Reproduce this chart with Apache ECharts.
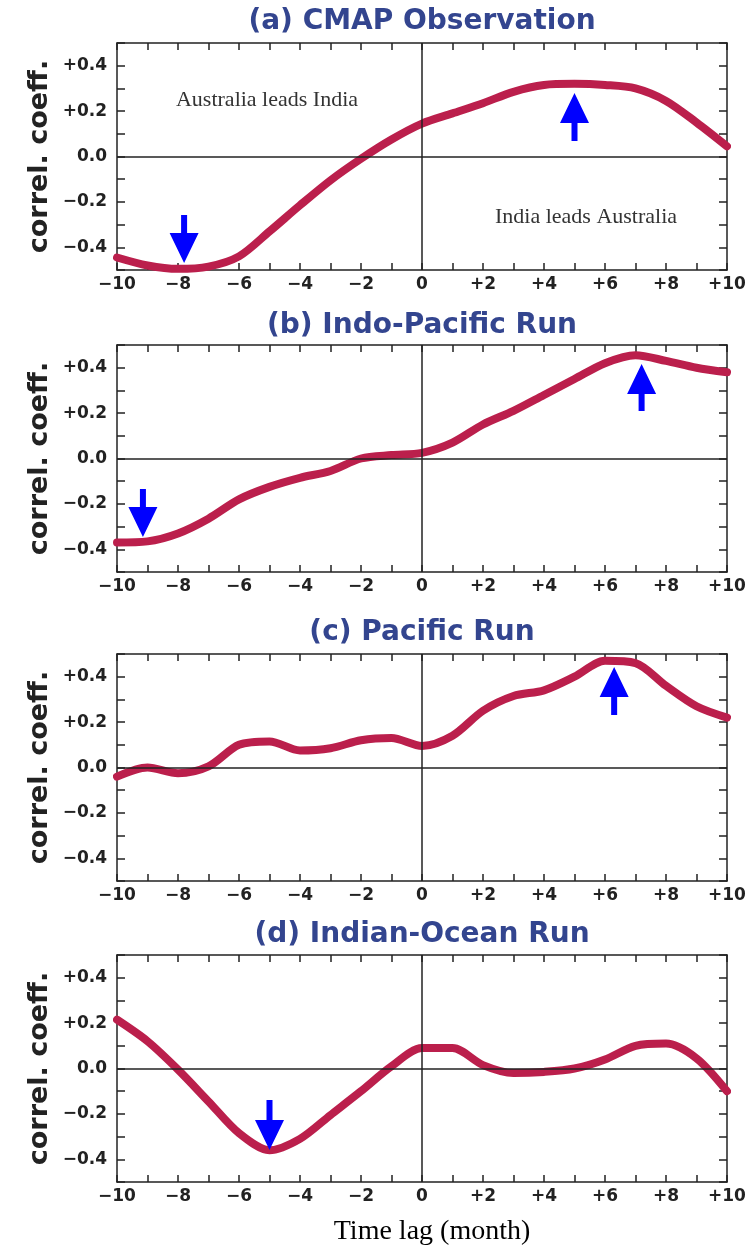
<!DOCTYPE html>
<html><head><meta charset="utf-8">
<script src="https://cdn.jsdelivr.net/npm/echarts@6/dist/echarts.min.js"></script>
<style>html,body{margin:0;padding:0;background:#fff}#c{width:754px;height:1251px}</style>
</head><body><div id="c"></div>
<script>
// ---- data ----
const lags = [-10,-9,-8,-7,-6,-5,-4,-3,-2,-1,0,1,2,3,4,5,6,7,8,9,10];
const corrA = [-0.445,-0.48,-0.495,-0.485,-0.44,-0.33,-0.215,-0.105,-0.01,0.075,0.145,0.19,0.235,0.285,0.315,0.32,0.315,0.30,0.245,0.15,0.045];
const corrB = [-0.37,-0.365,-0.33,-0.265,-0.18,-0.125,-0.085,-0.055,0.0,0.015,0.025,0.07,0.15,0.21,0.28,0.35,0.42,0.455,0.43,0.40,0.38];
const corrC = [-0.04,0.0,-0.025,0.005,0.10,0.115,0.075,0.085,0.12,0.13,0.095,0.14,0.25,0.315,0.34,0.40,0.47,0.46,0.36,0.27,0.22];
const corrD = [0.215,0.12,-0.005,-0.145,-0.285,-0.36,-0.31,-0.205,-0.10,0.01,0.09,0.09,0.015,-0.02,-0.015,0.0,0.04,0.10,0.11,0.045,-0.10];
// arrows: [lag, tail value, tip value]
const arrowsA = [[-7.8,-0.258,-0.469],[5.0,0.068,0.28]];
const arrowsB = [[-9.15,-0.134,-0.346],[7.2,0.209,0.416]];
const arrowsC = [[6.3,0.231,0.443]];
const arrowsD = [[-5.0,-0.139,-0.359]];
const panelTitles = ['(a) CMAP Observation','(b) Indo-Pacific Run','(c) Pacific Run','(d) Indian-Ocean Run'];
const xTickLabels = ['\u221210','\u22128','\u22126','\u22124','\u22122','0','+2','+4','+6','+8','+10'];
const yTickLabels = ['\u22120.4','\u22120.2','0.0','+0.2','+0.4'];
const yName = 'correl. coeff.';
const xName = 'Time lag (month)';
const noteLeft = 'Australia leads India';
const noteRight = 'India leads Australia';

// ---- layout ----
const series = [corrA, corrB, corrC, corrD];
const arrows = [arrowsA, arrowsB, arrowsC, arrowsD];
const gridTops = [43, 345, 654, 955];
const gridH = 227, gridL = 117, gridW = 610;
const titleY = [22, 326, 633, 935];
const axisColor = '#222';
const curveColor = '#bb1f4c';
const tickFont = {fontFamily:'DejaVu Sans', fontWeight:'bold', fontSize:17, color:'#222'};

const grid = [], xAxis = [], yAxis = [], seriesOpt = [], graphic = [];
function xFmt(v){ const r = Math.round(v); if (r % 2 !== 0) return ''; return xTickLabels[(r+10)/2]; }
function yFmt(v){ const i = Math.round(v*10); if (i % 2 !== 0 || Math.abs(i) > 4) return ''; return yTickLabels[(i+4)/2]; }

for (let p = 0; p < 4; p++) {
  grid.push({left: gridL, top: gridTops[p], width: gridW, height: gridH});
  const common = {type:'value', gridIndex:p, min:-10, max:10, interval:1,
    axisLine:{show:true, onZero:false, lineStyle:{color:axisColor, width:1.5}},
    axisTick:{show:true, inside:true, length:7, lineStyle:{color:axisColor, width:1.5}},
    splitLine:{show:false}};
  xAxis.push(Object.assign({}, common, {position:'bottom',
    axisLabel:Object.assign({show:true, margin:6, formatter:xFmt, showMinLabel:true, showMaxLabel:true}, tickFont)}));
  xAxis.push(Object.assign({}, common, {position:'top', axisLabel:{show:false}}));
  const ycommon = {type:'value', gridIndex:p, min:-0.5, max:0.5, interval:0.1,
    axisLine:{show:true, onZero:false, lineStyle:{color:axisColor, width:1.5}},
    axisTick:{show:true, inside:true, length:8, lineStyle:{color:axisColor, width:1.5}},
    splitLine:{show:false}};
  yAxis.push(Object.assign({}, ycommon, {position:'left',
    axisLabel:Object.assign({show:true, margin:10, formatter:yFmt}, tickFont)}));
  yAxis.push(Object.assign({}, ycommon, {position:'right', axisLabel:{show:false}}));

  seriesOpt.push({
    type:'line', xAxisIndex:2*p, yAxisIndex:2*p,
    data: lags.map((l,i)=>[l, series[p][i]]),
    showSymbol:false, smooth:0.3, clip:false, silent:true,
    lineStyle:{color:curveColor, width:8, cap:'round', join:'round'},
    markLine:{silent:true, symbol:'none', label:{show:false},
      lineStyle:{color:axisColor, width:1.5, type:'solid'},
      data:[{yAxis:0},{xAxis:0}]},
    z:3
  });
  seriesOpt.push({
    type:'custom', xAxisIndex:2*p, yAxisIndex:2*p, silent:true, z:5,
    data: arrows[p],
    renderItem: function(params, api){
      const x = api.value(0);
      const a = api.coord([x, api.value(1)]);
      const b = api.coord([x, api.value(2)]);
      const dir = b[1] > a[1] ? 1 : -1;
      const headH = 30, headHW = 14.5, shaftHW = 3;
      const baseY = b[1] - dir*headH;
      return {type:'polygon', shape:{points:[
        [a[0]-shaftHW, a[1]], [a[0]+shaftHW, a[1]],
        [a[0]+shaftHW, baseY], [a[0]+headHW, baseY],
        [b[0], b[1]], [a[0]-headHW, baseY], [a[0]-shaftHW, baseY]
      ]}, style:{fill:'#0000ff'}};
    }
  });

  graphic.push({type:'text', x: gridL + gridW/2, y: titleY[p], z:10,
    style:{text:panelTitles[p], font:'bold 28px "DejaVu Sans"', fill:'#33458f',
      align:'center', verticalAlign:'middle', textAlign:'center', textVerticalAlign:'middle'}});
  graphic.push({type:'text', x: 40, y: gridTops[p] + gridH/2, rotation: Math.PI/2, z:10,
    style:{text:yName, font:'bold 27px "DejaVu Sans"', fill:'#222',
      align:'center', verticalAlign:'middle', textAlign:'center', textVerticalAlign:'middle'}});
}
graphic.push({type:'text', x: 267, y: 100, z:10,
  style:{text:noteLeft, font:'22px "Liberation Serif"', fill:'#333',
    align:'center', verticalAlign:'middle', textAlign:'center', textVerticalAlign:'middle'}});
graphic.push({type:'text', x: 586, y: 217, z:10,
  style:{text:noteRight, font:'22px "Liberation Serif"', fill:'#333',
    align:'center', verticalAlign:'middle', textAlign:'center', textVerticalAlign:'middle'}});
graphic.push({type:'text', x: 432, y: 1232, z:10,
  style:{text:xName, font:'28px "Liberation Serif"', fill:'#000',
    align:'center', verticalAlign:'middle', textAlign:'center', textVerticalAlign:'middle'}});

const chart = echarts.init(document.getElementById('c'), null, {renderer:'canvas'});
chart.setOption({animation:false, backgroundColor:'#fff', grid, xAxis, yAxis, series:seriesOpt, graphic});
</script>
</body></html>
